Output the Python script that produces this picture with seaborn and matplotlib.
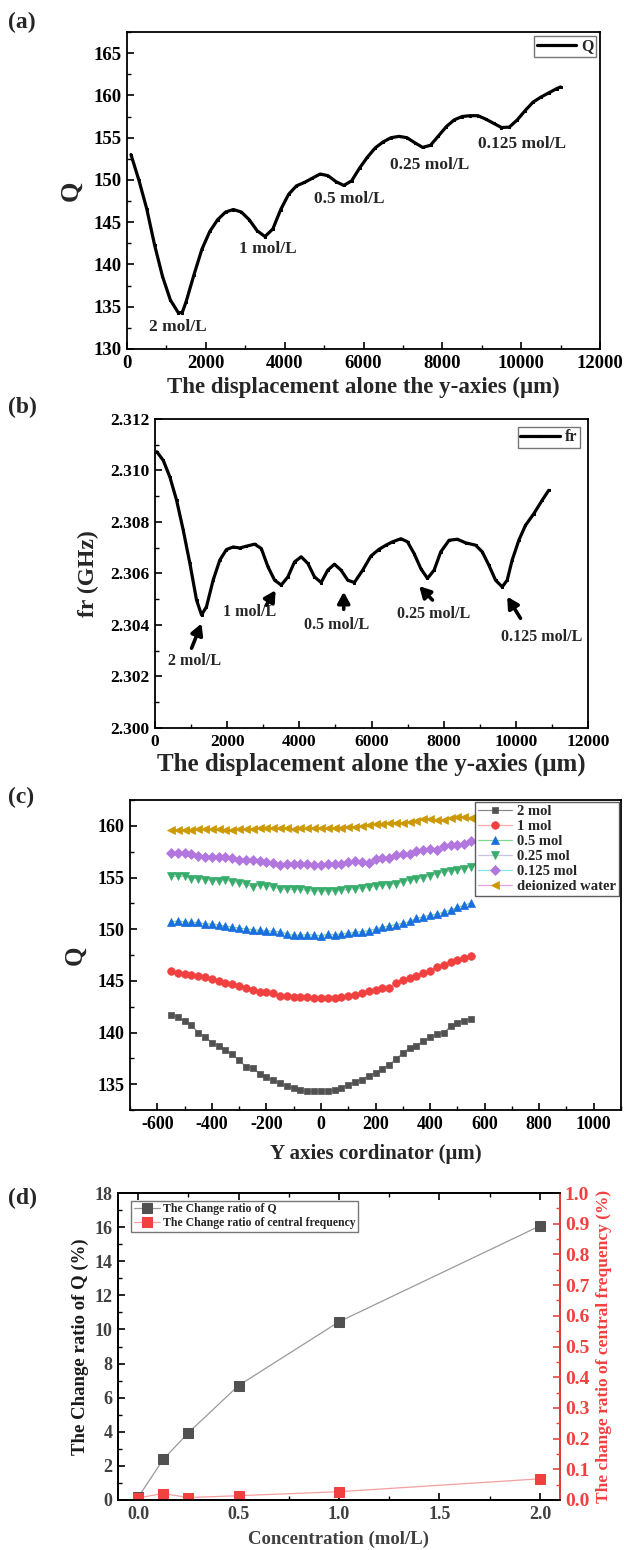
import numpy as np
import pandas as pd
import matplotlib
matplotlib.use("Agg")
import matplotlib.pyplot as plt
import seaborn as sns
from matplotlib.ticker import MultipleLocator

# ---------------- data ----------------
# (a) Q along the y-axis displacement
disp_a = [100, 300, 500, 700, 900, 1100, 1300, 1400, 1500, 1700, 1900, 2100, 2300, 2500,
          2700, 2900, 3100, 3300, 3500, 3700, 3900, 4100, 4300, 4500, 4700, 4900, 5100,
          5300, 5500, 5700, 5900, 6100, 6300, 6500, 6700, 6900, 7100, 7300, 7500, 7700,
          7900, 8100, 8300, 8500, 8700, 8900, 9100, 9300, 9500, 9700, 9900, 10100, 10300,
          10500, 10700, 10900, 11000]
q_a = [153.0, 150.0, 146.6, 142.3, 138.6, 135.8, 134.3, 134.3, 135.6, 138.8, 141.8, 143.9,
       145.3, 146.2, 146.5, 146.2, 145.3, 144.0, 143.3, 144.2, 146.5, 148.3, 149.3, 149.7,
       150.2, 150.7, 150.5, 149.8, 149.35, 149.9, 151.4, 152.7, 153.8, 154.5, 155.0, 155.15,
       155.0, 154.4, 153.85, 154.1, 155.2, 156.3, 157.1, 157.5, 157.6, 157.6, 157.2, 156.7,
       156.2, 156.25, 157.1, 158.2, 159.2, 159.8, 160.3, 160.8, 161.0]
labels_a = ["2 mol/L", "1 mol/L", "0.5 mol/L", "0.25 mol/L", "0.125 mol/L"]
labpos_a_x = [1300, 3560, 5650, 7690, 10010]
labpos_a_y = [132.6, 141.8, 147.8, 151.8, 154.2]

# (b) resonance frequency along the y-axis displacement
disp_b = [50, 230, 414, 599, 783, 967, 1151, 1290, 1427, 1611, 1796, 1980, 2164, 2348, 2532,
          2762, 2946, 3131, 3315, 3499, 3683, 3867, 4052, 4236, 4420, 4604, 4788, 4972, 5157,
          5341, 5525, 5755, 5985, 6200, 6400, 6584, 6814, 6998, 7182, 7367, 7551, 7735, 7919,
          8149, 8379, 8610, 8886, 9070, 9254, 9438, 9622, 9760, 9898, 10083, 10267, 10497,
          10727, 10912]
fr_b = [2.31073, 2.31039, 2.30974, 2.30884, 2.30768, 2.30639, 2.30497, 2.30439, 2.30471,
        2.30574, 2.30652, 2.30693, 2.30703, 2.30699, 2.30706, 2.30714, 2.30697, 2.30626,
        2.30574, 2.30555, 2.30587, 2.30645, 2.30665, 2.30639, 2.30587, 2.30565, 2.30613,
        2.30636, 2.30613, 2.30574, 2.30565, 2.30613, 2.30668, 2.30693, 2.30710, 2.30723,
        2.30735, 2.30723, 2.30677, 2.30619, 2.30581, 2.30613, 2.30684, 2.30729, 2.30733,
        2.30719, 2.30710, 2.30684, 2.30632, 2.30574, 2.30548, 2.30574, 2.30652, 2.30729,
        2.30787, 2.30832, 2.30884, 2.30923]
labels_b = ["2 mol/L", "1 mol/L", "0.5 mol/L", "0.25 mol/L", "0.125 mol/L"]
labpos_b_x = [1105, 2620, 5020, 7735, 10727]
labpos_b_y = [2.30262, 2.30450, 2.30400, 2.30443, 2.30355]
arrow_tail_x = [1013, 3085, 5230, 7689, 10129]
arrow_tail_y = [2.30310, 2.30477, 2.30461, 2.30497, 2.30426]
arrow_head_x = [1289, 3343, 5230, 7321, 9760]
arrow_head_y = [2.30406, 2.30535, 2.30529, 2.30551, 2.30510]

# (c) Q vs Y coordinate for each concentration
coord_c = list(range(-550, 575, 25))
q_2mol = [141.7, 141.5, 141.1, 140.7, 140.0, 139.6, 139.0, 138.7, 138.3, 137.9, 137.3, 136.7,
          136.6, 136.0, 135.7, 135.4, 135.1, 134.8, 134.6, 134.4, 134.3, 134.3, 134.3, 134.35,
          134.45, 134.65, 134.9, 135.2, 135.45, 135.8, 136.1, 136.5, 136.9, 137.4, 138.0,
          138.5, 138.7, 139.2, 139.55, 139.85, 139.95, 140.6, 140.95, 141.15, 141.35]
q_1mol = [146.0, 145.8, 145.7, 145.6, 145.5, 145.35, 145.15, 145.0, 144.8, 144.7, 144.5,
          144.35, 144.1, 143.9, 143.9, 143.8, 143.55, 143.5, 143.45, 143.4, 143.4, 143.35,
          143.3, 143.3, 143.35, 143.4, 143.5, 143.65, 143.8, 144.0, 144.1, 144.3, 144.35,
          144.8, 145.1, 145.3, 145.5, 145.8, 146.0, 146.3, 146.5, 146.8, 147.0, 147.25, 147.45]
q_05mol = [150.7, 150.8, 150.7, 150.65, 150.65, 150.5, 150.5, 150.4, 150.3, 150.2, 150.1,
           150.05, 149.95, 149.9, 149.85, 149.8, 149.75, 149.55, 149.4, 149.45, 149.45,
           149.45, 149.35, 149.5, 149.45, 149.55, 149.6, 149.7, 149.75, 149.85, 150.0, 150.2,
           150.3, 150.45, 150.55, 150.75, 151.05, 151.2, 151.35, 151.45, 151.65, 151.85,
           152.1, 152.3, 152.55]
q_025mol = [155.1, 155.1, 155.1, 154.9, 154.9, 154.8, 154.7, 154.7, 154.8, 154.55, 154.45,
            154.35, 154.05, 154.3, 154.2, 154.05, 153.9, 153.85, 153.85, 153.85, 153.75,
            153.7, 153.7, 153.7, 153.7, 153.75, 153.85, 153.9, 153.95, 154.05, 154.15,
            154.25, 154.3, 154.4, 154.6, 154.75, 154.85, 155.0, 155.15, 155.35, 155.5,
            155.65, 155.75, 155.85, 156.05]
q_0125mol = [157.35, 157.35, 157.35, 157.3, 157.1, 156.95, 157.0, 156.95, 156.95, 156.85,
             156.7, 156.7, 156.7, 156.6, 156.5, 156.4, 156.2, 156.35, 156.3, 156.3, 156.3,
             156.25, 156.2, 156.3, 156.35, 156.35, 156.5, 156.55, 156.5, 156.45, 156.75,
             156.85, 156.9, 157.2, 157.3, 157.3, 157.55, 157.7, 157.8, 157.65, 158.05, 158.1,
             158.15, 158.25, 158.55]
q_water = [159.6, 159.6, 159.6, 159.6, 159.65, 159.65, 159.65, 159.65, 159.55, 159.6, 159.65,
           159.7, 159.7, 159.75, 159.75, 159.75, 159.75, 159.75, 159.7, 159.75, 159.75,
           159.75, 159.75, 159.75, 159.8, 159.8, 159.85, 159.9, 159.95, 160.05, 160.15, 160.2,
           160.25, 160.3, 160.3, 160.35, 160.5, 160.65, 160.7, 160.6, 160.55, 160.8, 160.9,
           160.9, 160.8]
series_c_names = ["2 mol", "1 mol", "0.5 mol", "0.25 mol", "0.125 mol", "deionized water"]

# (d) change ratios vs concentration
conc_d = [0.0, 0.125, 0.25, 0.5, 1.0, 2.0]
ratio_q = [0.15, 2.38, 3.94, 6.71, 10.45, 16.07]
ratio_f = [0.007, 0.021, 0.008, 0.014, 0.027, 0.069]

# ---------------- style ----------------
sns.set_theme(style="ticks")
plt.rcParams["font.family"] = ["Liberation Serif", "DejaVu Serif"]
plt.rcParams["font.weight"] = "bold"
plt.rcParams["axes.labelweight"] = "bold"
plt.rcParams["axes.linewidth"] = 1.3
plt.rcParams["axes.edgecolor"] = "black"
plt.rcParams["axes.unicode_minus"] = False

W, H = 624, 1550
fig = plt.figure(figsize=(W / 100, H / 100), dpi=100)


def rect(l, t, r, b):
    return [l / W, 1 - b / H, (r - l) / W, (b - t) / H]


def style_ticks(ax, size=13, color="black"):
    ax.tick_params(axis="both", which="major", direction="in", length=5, width=1.2,
                   labelsize=size, colors="black", labelcolor=color, pad=4)
    ax.tick_params(axis="both", which="minor", direction="in", length=3, width=1.0,
                   colors="black")
    for lab in ax.get_xticklabels() + ax.get_yticklabels():
        lab.set_fontweight("bold")


axA = fig.add_axes(rect(127, 32, 600, 349))
axB = fig.add_axes(rect(155, 419, 588, 728))
axC = fig.add_axes(rect(130, 800, 621, 1110))
axD = fig.add_axes(rect(118, 1193, 560, 1500))

# ---------- (a) ----------
dfa = pd.DataFrame({"x": disp_a, "Q": q_a})
sns.lineplot(data=dfa, x="x", y="Q", ax=axA, color="black", lw=2.3, marker="s",
             markersize=1.6, markeredgecolor="black", sort=False, label="Q")
axA.set_xlim(0, 12000)
axA.set_ylim(130, 167.5)
axA.xaxis.set_major_locator(MultipleLocator(2000))
axA.xaxis.set_minor_locator(MultipleLocator(1000))
axA.yaxis.set_major_locator(MultipleLocator(5))
axA.yaxis.set_minor_locator(MultipleLocator(2.5))
style_ticks(axA, 13.5)
axA.set_xlabel("The displacement alone the y-axies (μm)", fontsize=16.5, labelpad=4)
axA.set_ylabel("Q", fontsize=19, labelpad=8)
for t, x, y in zip(labels_a, labpos_a_x, labpos_a_y):
    axA.text(x, y, t, ha="center", va="center", fontsize=12.5, fontweight="bold")
axA.legend(loc="upper right", frameon=True, fancybox=False, edgecolor="#555555",
           borderpad=0.15, handlelength=2.5, handletextpad=0.3, borderaxespad=0.25,
           prop={"weight": "bold", "size": 11.5})

# ---------- (b) ----------
dfb = pd.DataFrame({"x": disp_b, "fr": fr_b})
sns.lineplot(data=dfb, x="x", y="fr", ax=axB, color="black", lw=2.3, marker="s",
             markersize=1.6, markeredgecolor="black", sort=False, label="fr")
axB.set_xlim(0, 12000)
axB.set_ylim(2.300, 2.312)
axB.xaxis.set_major_locator(MultipleLocator(2000))
axB.xaxis.set_minor_locator(MultipleLocator(1000))
axB.yaxis.set_major_locator(MultipleLocator(0.002))
axB.yaxis.set_minor_locator(MultipleLocator(0.001))
axB.yaxis.set_major_formatter(matplotlib.ticker.FormatStrFormatter("%.3f"))
style_ticks(axB, 12.5)
axB.set_xlabel("The displacement alone the y-axies (μm)", fontsize=18, labelpad=2)
axB.set_ylabel("fr (GHz)", fontsize=17, labelpad=8)
for t, x, y in zip(labels_b, labpos_b_x, labpos_b_y):
    axB.text(x, y, t, ha="center", va="center", fontsize=11.5, fontweight="bold")
for tx, ty, hx, hy in zip(arrow_tail_x, arrow_tail_y, arrow_head_x, arrow_head_y):
    axB.annotate("", xy=(hx, hy), xytext=(tx, ty),
                 arrowprops=dict(arrowstyle="-|>,head_length=0.55,head_width=0.3",
                                 lw=2.6, color="black", shrinkA=0, shrinkB=0))
axB.legend(loc="upper right", frameon=True, fancybox=False, edgecolor="#555555",
           borderpad=0.15, handlelength=2.5, handletextpad=0.3, borderaxespad=0.5,
           prop={"weight": "bold", "size": 11.5})

# ---------- (c) ----------
series_c = [q_2mol, q_1mol, q_05mol, q_025mol, q_0125mol, q_water]
marker_cols = ["#515151", "#F14040", "#1A6FDF", "#37AD6B", "#B177DE", "#CC9900"]
line_cols = ["#8a8a8a", "#f7a8a8", "#7fd88f", "#c9c4dc", "#7fe6f0", "#e6a0e6"]
markers_c = ["s", "o", "^", "v", "D", "<"]
msizes = [5, 5.5, 6, 6, 4.8, 6]
for name, vals, mc, lc, mk, ms in zip(series_c_names, series_c, marker_cols, line_cols,
                                      markers_c, msizes):
    dfc = pd.DataFrame({"y": coord_c, "Q": vals})
    sns.lineplot(data=dfc, x="y", y="Q", ax=axC, color=lc, lw=0.9, marker=mk,
                 markersize=ms, markerfacecolor=mc, markeredgecolor=mc, markeredgewidth=0.5,
                 sort=False, label=name)
axC.set_xlim(-700, 1100)
axC.set_ylim(132.5, 162.5)
axC.xaxis.set_major_locator(MultipleLocator(200))
axC.xaxis.set_minor_locator(MultipleLocator(100))
axC.yaxis.set_major_locator(MultipleLocator(5))
axC.yaxis.set_minor_locator(MultipleLocator(2.5))
style_ticks(axC, 13)
axC.set_xlabel("Y axies cordinator (μm)", fontsize=15, labelpad=8)
axC.set_ylabel("Q", fontsize=18, labelpad=8)
axC.legend(loc="upper right", frameon=True, fancybox=False, edgecolor="#333333",
           borderpad=0.2, handlelength=2.3, handletextpad=0.35, labelspacing=0.12,
           borderaxespad=0.15, prop={"weight": "bold", "size": 10.5})

# ---------- (d) ----------
gray_txt = "#404040"
red = "#F14040"
dfd = pd.DataFrame({"c": conc_d, "rq": ratio_q, "rf": ratio_f})
axD2 = axD.twinx()
sns.lineplot(data=dfd, x="c", y="rq", ax=axD, color="#9a9a9a", lw=0.9, marker="s",
             markersize=7, markerfacecolor="#515151", markeredgecolor="#515151",
             sort=False, label="The Change ratio of Q", legend=False)
sns.lineplot(data=dfd, x="c", y="rf", ax=axD2, color="#f5a0a0", lw=0.9, marker="s",
             markersize=7, markerfacecolor=red, markeredgecolor=red,
             sort=False, label="The Change ratio of central frequency", legend=False)
axD.set_xlim(-0.1, 2.1)
axD.set_ylim(0, 18)
axD2.set_ylim(0, 1.0)
axD.xaxis.set_major_locator(MultipleLocator(0.5))
axD.xaxis.set_minor_locator(MultipleLocator(0.25))
axD.yaxis.set_major_locator(MultipleLocator(2))
axD.yaxis.set_minor_locator(MultipleLocator(1))
axD2.yaxis.set_major_locator(MultipleLocator(0.1))
axD2.yaxis.set_minor_locator(MultipleLocator(0.05))
axD.xaxis.set_major_formatter(matplotlib.ticker.FormatStrFormatter("%.1f"))
axD2.yaxis.set_major_formatter(matplotlib.ticker.FormatStrFormatter("%.1f"))
style_ticks(axD, 13, gray_txt)
axD.tick_params(axis="x", top=True, which="both")
axD2.tick_params(axis="y", which="major", direction="in", length=5, width=1.2,
                 colors=red, labelsize=14, labelcolor=red)
axD2.tick_params(axis="y", which="minor", direction="in", length=3, width=1.0, colors=red)
for lab in axD2.get_yticklabels():
    lab.set_fontweight("bold")
axD2.spines["right"].set_color(red)
axD2.spines["right"].set_linewidth(1.3)
axD.set_xlabel("Concentration (mol/L)", fontsize=13.5, labelpad=6, color=gray_txt)
axD.set_ylabel("The Change ratio of Q (%)", fontsize=13.5, labelpad=4, color="#1a1a1a")
axD2.set_ylabel("The change ratio of central frequency (%)", fontsize=12.5, labelpad=5,
                color=red)
h1, l1 = axD.get_legend_handles_labels()
h2, l2 = axD2.get_legend_handles_labels()
axD2.legend(h1 + h2, l1 + l2, loc="upper left", bbox_to_anchor=(0.03, 0.975),
            frameon=True, fancybox=False, edgecolor="#555555", borderpad=0.2,
            handlelength=2.2, handletextpad=0.3, labelspacing=0.2, borderaxespad=0,
            prop={"weight": "bold", "size": 8.5})

# panel letters
for letter, y in zip(["(a)", "(b)", "(c)", "(d)"], [22, 407, 797, 1198]):
    fig.text(8 / W, 1 - y / H, letter, fontsize=17, fontweight="bold", va="center", ha="left")

fig.savefig("out.png", dpi=100)
